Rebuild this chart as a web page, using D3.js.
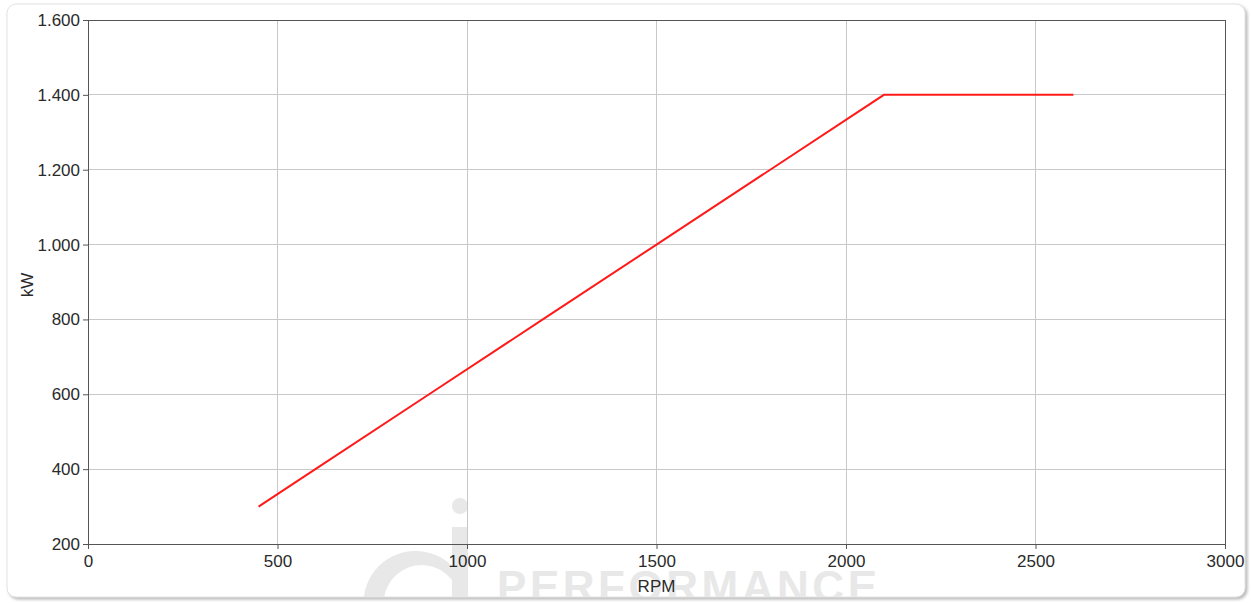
<!DOCTYPE html>
<meta charset="utf-8">
<style>
body { margin: 0; background: #fff; }
svg text { font-family: 'Liberation Sans', Arial, sans-serif; }
.tick text { font-size: 17px; fill: #2a2a2a; }
</style>
<svg width="1251" height="603"></svg>
<script src="https://d3js.org/d3.v7.min.js"></script>
<script>

// power curve, kW against RPM
const rpm = [450, 600, 900, 1200, 1500, 1800, 2100, 2600];
const kw = [300, 400, 600, 800, 1000, 1200, 1400, 1400];
const xTicks = [0, 500, 1000, 1500, 2000, 2500, 3000];
const yTicks = [200, 400, 600, 800, 1000, 1200, 1400, 1600];

const svg = d3.select('svg');
const margin = {left: 88, right: 26, top: 20, bottom: 59};
const width = 1251, height = 603;

// rounded frame with soft shadow
const defs = svg.append('defs');
const shadow = defs.append('filter').attr('id', 'shadow')
    .attr('x', '-5%').attr('y', '-5%').attr('width', '110%').attr('height', '110%');
shadow.append('feDropShadow').attr('dx', 2).attr('dy', 2).attr('stdDeviation', 1.5)
    .attr('flood-color', '#888').attr('flood-opacity', 0.6);

defs.append('clipPath').attr('id', 'frameclip')
    .append('rect').attr('x', 7).attr('y', 4).attr('width', 1238).attr('height', 593).attr('rx', 9);

svg.append('rect')
    .attr('x', 7).attr('y', 4).attr('width', 1238).attr('height', 593).attr('rx', 9)
    .attr('fill', '#fff').attr('stroke', '#e2e2e2').attr('filter', 'url(#shadow)');

// watermark
const wm = svg.append('g').attr('clip-path', 'url(#frameclip)').attr('fill', '#e8e8e8');
wm.append('circle').attr('cx', 460).attr('cy', 506).attr('r', 8);
wm.append('rect').attr('x', 452).attr('y', 527).attr('width', 16).attr('height', 80);
wm.append('path').attr('d', 'M452,566 A52,52 0 1,0 452,640 L452,626 A38,38 0 1,1 452,580 Z');
wm.append('text').attr('x', 497).attr('y', 602)
    .attr('font-size', 44).attr('font-weight', 'bold')
    .attr('textLength', 380).attr('lengthAdjust', 'spacing')
    .text('PERFORMANCE');

const x = d3.scaleLinear().domain([0, 3000]).range([margin.left, width - margin.right]);
const y = d3.scaleLinear().domain([200, 1600]).range([height - margin.bottom, margin.top]);

// grid
svg.append('g').selectAll('line').data(xTicks.slice(1, -1)).join('line')
    .attr('x1', d => x(d)).attr('x2', d => x(d))
    .attr('y1', y(1600)).attr('y2', y(200))
    .attr('stroke', '#c8c8c8').attr('stroke-width', 1).attr('shape-rendering', 'crispEdges');
svg.append('g').selectAll('line').data(yTicks.slice(1, -1)).join('line')
    .attr('x1', x(0)).attr('x2', x(3000))
    .attr('y1', d => y(d)).attr('y2', d => y(d))
    .attr('stroke', '#c8c8c8').attr('stroke-width', 1).attr('shape-rendering', 'crispEdges');

// box
svg.append('rect')
    .attr('x', x(0)).attr('y', y(1600))
    .attr('width', x(3000) - x(0)).attr('height', y(200) - y(1600))
    .attr('fill', 'none').attr('stroke', '#555').attr('shape-rendering', 'crispEdges');

const fmt = d => d3.format(',')(d).replace(',', '.');

const xAxis = svg.append('g')
    .attr('transform', `translate(0,${y(200)})`)
    .call(d3.axisBottom(x).tickValues(xTicks).tickSize(5).tickSizeOuter(0).tickPadding(6).tickFormat(d3.format('d')));
const yAxis = svg.append('g')
    .attr('transform', `translate(${x(0)},0)`)
    .call(d3.axisLeft(y).tickValues(yTicks).tickSize(5).tickSizeOuter(0).tickPadding(3).tickFormat(fmt));
[xAxis, yAxis].forEach(a => {
    a.select('.domain').attr('stroke', '#555');
    a.selectAll('.tick line').attr('stroke', '#555');
});

svg.append('text')
    .attr('x', x(1500)).attr('y', 592)
    .attr('text-anchor', 'middle').attr('font-size', 17).attr('fill', '#2a2a2a')
    .text('RPM');
svg.append('text')
    .attr('transform', 'translate(33,285) rotate(-90)')
    .attr('text-anchor', 'middle').attr('font-size', 17).attr('fill', '#2a2a2a')
    .text('kW');

// series
const line = d3.line().x((d, i) => x(rpm[i])).y(d => y(d));
svg.append('path')
    .datum(kw)
    .attr('d', line)
    .attr('fill', 'none')
    .attr('stroke', '#ff1a1a')
    .attr('stroke-width', 2);

</script>
